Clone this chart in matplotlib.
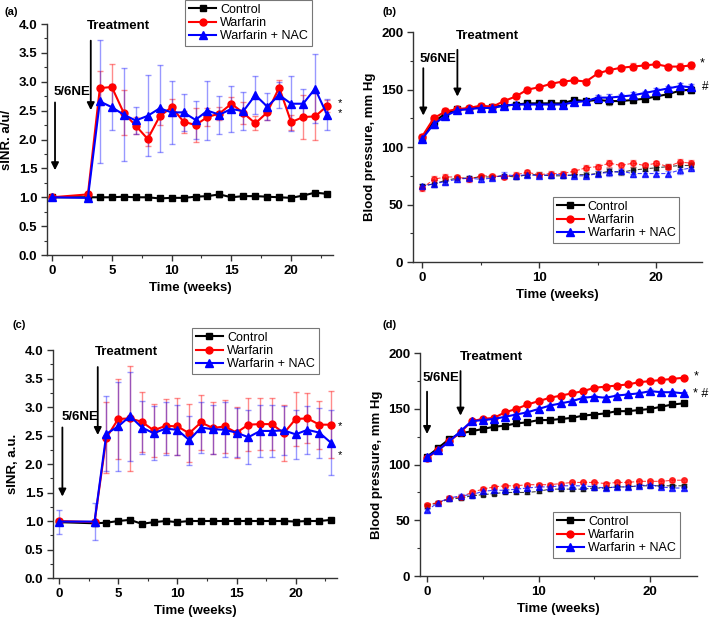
import matplotlib.pyplot as plt
from matplotlib.ticker import MultipleLocator

plt.rcParams['font.family'] = ['Liberation Sans', 'DejaVu Sans']

# --- data ---
weeks_inr = [0, 3] + list(range(4, 24))
weeks_bp = list(range(0, 24))

# (a) sINR
a_control = [1.00, 1.00, 1.00, 1.00, 1.01, 1.00, 1.00, 0.98, 0.99, 0.99, 1.01, 1.02,
             1.05, 1.00, 1.02, 1.02, 1.01, 1.00, 0.99, 1.03, 1.08, 1.06]
a_control_err = [0.02, 0.02, 0.02, 0.02, 0.02, 0.02, 0.02, 0.03, 0.02, 0.02, 0.02, 0.02,
                 0.04, 0.02, 0.02, 0.02, 0.02, 0.02, 0.03, 0.02, 0.02, 0.02]
a_warf = [1.00, 1.05, 2.89, 2.91, 2.46, 2.24, 2.01, 2.40, 2.56, 2.31, 2.25, 2.39,
          2.45, 2.62, 2.46, 2.28, 2.47, 2.90, 2.30, 2.39, 2.40, 2.58]
a_warf_err = [0.02, 0.03, 0.30, 0.40, 0.39, 0.15, 0.12, 0.15, 0.15, 0.19, 0.30, 0.16,
              0.12, 0.11, 0.19, 0.12, 0.13, 0.13, 0.13, 0.38, 0.41, 0.11]
a_nac = [1.00, 0.99, 2.66, 2.56, 2.43, 2.33, 2.41, 2.54, 2.47, 2.47, 2.34, 2.50,
         2.43, 2.53, 2.49, 2.77, 2.57, 2.77, 2.62, 2.62, 2.88, 2.43]
a_nac_err = [0.02, 0.02, 1.06, 0.40, 0.80, 0.23, 0.70, 0.75, 0.54, 0.32, 0.33, 0.51,
             0.33, 0.40, 0.33, 0.33, 0.24, 0.23, 0.48, 0.26, 0.60, 0.27]

# (b) blood pressure, systolic (solid) and diastolic (dashed)
b_control_sys = [108, 122, 129, 133, 133, 135, 135, 136, 137, 138, 138, 138,
                 138, 141, 140, 141, 140, 140, 141, 142, 144, 146, 149, 150]
b_warf_sys = [109, 125, 131, 133, 134, 136, 135, 140, 144, 150, 152, 155,
              157, 158, 157, 164, 167, 169, 170, 171, 172, 170, 170, 171]
b_nac_sys = [107, 120, 127, 132, 133, 134, 134, 136, 137, 137, 137, 137,
             137, 139, 140, 143, 143, 144, 145, 147, 149, 151, 153, 152]
b_control_dia = [66, 68, 71, 73, 73, 74, 74, 75, 74, 76, 76, 75,
                 75, 76, 76, 77, 79, 78, 80, 81, 82, 83, 84, 84]
b_warf_dia = [64, 72, 74, 74, 72, 75, 75, 74, 76, 78, 76, 77,
              77, 79, 82, 83, 86, 84, 86, 84, 86, 83, 87, 86]
b_nac_dia = [66, 68, 70, 72, 73, 72, 73, 76, 75, 76, 75, 76,
             76, 75, 75, 77, 78, 79, 77, 77, 77, 77, 80, 82]
b_err = [2, 3, 3, 2, 2, 2, 2, 2, 2, 2, 2, 2, 2, 2, 2, 2, 3, 2, 3, 2, 2, 2, 3, 3]

# (c) sINR
c_control = [0.98, 0.96, 0.97, 1.00, 1.02, 0.95, 0.98, 1.00, 0.98, 1.00, 1.00, 1.00,
             1.00, 1.00, 1.00, 1.00, 1.00, 1.00, 0.99, 1.00, 1.00, 1.02]
c_control_err = [0.02, 0.03, 0.02, 0.02, 0.02, 0.03, 0.02, 0.02, 0.02, 0.02, 0.02, 0.02,
                 0.02, 0.02, 0.02, 0.02, 0.02, 0.02, 0.02, 0.02, 0.02, 0.02]
c_warf = [1.00, 0.98, 2.46, 2.79, 2.80, 2.74, 2.59, 2.67, 2.66, 2.54, 2.73, 2.63,
          2.66, 2.55, 2.69, 2.70, 2.70, 2.54, 2.79, 2.80, 2.69, 2.69]
c_warf_err = [0.03, 0.03, 0.62, 0.70, 0.92, 0.53, 0.47, 0.47, 0.50, 0.51, 0.48, 0.46,
              0.46, 0.45, 0.46, 0.45, 0.46, 0.49, 0.48, 0.44, 0.42, 0.59]
c_nac = [0.99, 0.99, 2.53, 2.66, 2.84, 2.64, 2.54, 2.62, 2.60, 2.42, 2.64, 2.61,
         2.60, 2.55, 2.47, 2.58, 2.58, 2.59, 2.52, 2.60, 2.55, 2.37]
c_nac_err = [0.21, 0.32, 0.66, 0.78, 0.78, 0.47, 0.47, 0.47, 0.44, 0.43, 0.44, 0.43,
             0.48, 0.43, 0.47, 0.45, 0.45, 0.43, 0.43, 0.42, 0.44, 0.57]

# (d) blood pressure
d_control_sys = [107, 115, 123, 128, 130, 132, 134, 135, 137, 138, 140, 140,
                 141, 142, 144, 145, 146, 148, 148, 149, 150, 152, 154, 155]
d_warf_sys = [106, 113, 121, 129, 139, 141, 142, 147, 150, 154, 157, 160,
              162, 164, 166, 169, 170, 171, 172, 174, 175, 176, 177, 178]
d_nac_sys = [107, 113, 121, 130, 139, 140, 141, 143, 145, 147, 150, 153,
             155, 157, 160, 161, 160, 162, 163, 164, 166, 165, 165, 164]
d_control_dia = [63, 66, 69, 70, 72, 73, 74, 75, 75, 75, 76, 78,
                 78, 78, 78, 79, 79, 80, 80, 81, 81, 81, 81, 81]
d_warf_dia = [64, 66, 70, 71, 75, 78, 80, 81, 81, 82, 82, 82,
              83, 84, 84, 84, 83, 84, 84, 85, 85, 85, 86, 86]
d_nac_dia = [59, 66, 70, 72, 73, 76, 77, 77, 78, 79, 80, 80,
             81, 81, 81, 80, 79, 80, 80, 81, 82, 80, 79, 79]
d_err = [1.5] * 24

RED = '#ff0000'
BLUE = '#0000ff'


def style_axis(ax, xlim, ylim, ymaj, ymin, xmaj, xmin, ylabel):
    ax.set_xlim(*xlim)
    ax.set_ylim(*ylim)
    ax.spines['top'].set_visible(False)
    ax.spines['right'].set_visible(False)
    for s in ['left', 'bottom']:
        ax.spines[s].set_color('#333333')
        ax.spines[s].set_linewidth(1.0)
    ax.yaxis.set_major_locator(MultipleLocator(ymaj))
    ax.yaxis.set_minor_locator(MultipleLocator(ymin))
    ax.xaxis.set_major_locator(MultipleLocator(xmaj))
    ax.xaxis.set_minor_locator(MultipleLocator(xmin))
    ax.tick_params(which='major', length=4, width=1, color='#333333', labelsize=9.5, pad=3)
    ax.tick_params(which='minor', length=2, width=0.8, color='#333333')
    for lab in ax.get_xticklabels() + ax.get_yticklabels():
        lab.set_fontweight('bold')
    ax.set_xlabel('Time (weeks)', fontsize=9.5, fontweight='bold')
    ax.set_ylabel(ylabel, fontsize=9.5, fontweight='bold')


def inr_panel(ax, ctrl, ctrl_err, warf, warf_err, nac, nac_err):
    ax.errorbar(weeks_inr, warf, yerr=warf_err, fmt='none', ecolor=RED, alpha=0.45,
                elinewidth=1, capsize=2.5)
    ax.errorbar(weeks_inr, nac, yerr=nac_err, fmt='none', ecolor=BLUE, alpha=0.4,
                elinewidth=1, capsize=2.5)
    ax.errorbar(weeks_inr, ctrl, yerr=ctrl_err, fmt='none', ecolor='k', elinewidth=1, capsize=2)
    ax.plot(weeks_inr, ctrl, color='k', marker='s', ms=4, lw=1.5, label='Control')
    ax.plot(weeks_inr, warf, color=RED, marker='o', ms=5, lw=1.5, label='Warfarin')
    ax.plot(weeks_inr, nac, color=BLUE, marker='^', ms=5.5, lw=1.5, label='Warfarin + NAC')


def bp_panel(ax, csys, wsys, nsys, cdia, wdia, ndia, err):
    for y, c in [(cdia, 'k'), (wdia, RED), (ndia, BLUE)]:
        ax.errorbar(weeks_bp, y, yerr=err, fmt='none', ecolor=c, alpha=0.4, elinewidth=0.8, capsize=2)
    ax.plot(weeks_bp, cdia, color='k', marker='s', ms=3.5, lw=0.8, ls='--', alpha=0.75)
    ax.plot(weeks_bp, wdia, color=RED, marker='o', ms=4, lw=0.8, ls='--', alpha=0.75)
    ax.plot(weeks_bp, ndia, color=BLUE, marker='^', ms=4, lw=0.8, ls='--', alpha=0.75)
    for y, c in [(csys, 'k'), (wsys, RED), (nsys, BLUE)]:
        ax.errorbar(weeks_bp, y, yerr=err, fmt='none', ecolor=c, alpha=0.5, elinewidth=0.8, capsize=2)
    ax.plot(weeks_bp, csys, color='k', marker='s', ms=4, lw=1.5, label='Control')
    ax.plot(weeks_bp, wsys, color=RED, marker='o', ms=5, lw=1.5, label='Warfarin')
    ax.plot(weeks_bp, nsys, color=BLUE, marker='^', ms=5.5, lw=1.5, label='Warfarin + NAC')


def add_legend(ax, x, y):
    leg = ax.legend(loc='upper left', bbox_to_anchor=(x, y), borderaxespad=0,
                    fancybox=False, frameon=True, fontsize=9, handlelength=2.2,
                    handletextpad=0.3, labelspacing=0.1, borderpad=0.3)
    leg.get_frame().set_edgecolor('#555555')
    leg.get_frame().set_linewidth(0.8)


def arrow(ax, text, tx, ty, ax_x, y0, y1):
    ax.text(tx, ty, text, fontsize=9.5, fontweight='bold', ha='left', va='center', clip_on=False)
    ax.annotate('', xy=(ax_x, y1), xytext=(ax_x, y0), annotation_clip=False,
                arrowprops=dict(arrowstyle='-|>', color='k', lw=1.3, mutation_scale=11))


fig = plt.figure(figsize=(7.09, 6.24), dpi=100)

ax_a = fig.add_axes([0.0663, 0.5913, 0.4034, 0.3702])
inr_panel(ax_a, a_control, a_control_err, a_warf, a_warf_err, a_nac, a_nac_err)
style_axis(ax_a, (-0.42, 23.5), (0, 4.0), 0.5, 0.25, 5, 2.5, 'sINR. a/u/')
add_legend(ax_a, 0.483, 1.104)
arrow(ax_a, '5/6NE', 0.12, 2.83, 0.25, 2.69, 1.42)
arrow(ax_a, 'Treatment', 2.95, 3.97, 3.24, 3.76, 2.46)
ax_a.text(23.9, 2.63, '*', fontsize=8, ha='left', va='center', clip_on=False)
ax_a.text(23.9, 2.46, '*', fontsize=8, ha='left', va='center', clip_on=False)

ax_b = fig.add_axes([0.5825, 0.580, 0.4076, 0.3686])
bp_panel(ax_b, b_control_sys, b_warf_sys, b_nac_sys, b_control_dia, b_warf_dia, b_nac_dia, b_err)
style_axis(ax_b, (-0.77, 23.9), (0, 200), 50, 25, 10, 5, 'Blood pressure, mm Hg')
add_legend(ax_b, 0.484, 0.283)
arrow(ax_b, '5/6NE', -0.17, 177, 0.11, 171, 125)
arrow(ax_b, 'Treatment', 2.9, 197, 3.02, 187, 141.5)
ax_b.text(23.95, 173, '*', fontsize=9, ha='center', va='center', clip_on=False)
ax_b.text(24.15, 152, '#', fontsize=8.5, ha='center', va='center', clip_on=False)

ax_c = fig.add_axes([0.0748, 0.0737, 0.4006, 0.3654])
inr_panel(ax_c, c_control, c_control_err, c_warf, c_warf_err, c_nac, c_nac_err)
style_axis(ax_c, (-0.51, 23.5), (0, 4.0), 0.5, 0.25, 5, 2.5, 'sINR, a.u.')
add_legend(ax_c, 0.489, 1.096)
arrow(ax_c, '5/6NE', 0.18, 2.82, 0.28, 2.69, 1.38)
arrow(ax_c, 'Treatment', 3.05, 3.97, 3.27, 3.75, 2.46)
ax_c.text(23.6, 2.66, '*', fontsize=8, ha='left', va='center', clip_on=False)
ax_c.text(23.6, 2.16, '*', fontsize=8, ha='left', va='center', clip_on=False)

ax_d = fig.add_axes([0.5924, 0.0769, 0.3907, 0.357])
bp_panel(ax_d, d_control_sys, d_warf_sys, d_nac_sys, d_control_dia, d_warf_dia, d_nac_dia, d_err)
style_axis(ax_d, (-0.63, 24.2), (0, 200), 50, 25, 10, 5, 'Blood pressure, mm Hg')
add_legend(ax_d, 0.48, 0.287)
arrow(ax_d, '5/6NE', -0.38, 177.5, 0.0, 168, 125)
arrow(ax_d, 'Treatment', 2.9, 197, 3.0, 186.5, 141.5)
ax_d.text(23.95, 179, '*', fontsize=9, ha='left', va='center', clip_on=False)
ax_d.text(23.85, 163, '* #', fontsize=9, ha='left', va='center', clip_on=False)

fig.text(0.006, 1 - 12 / 624, '(a)', fontsize=8, fontweight='bold', va='center')
fig.text(0.539, 1 - 12 / 624, '(b)', fontsize=8, fontweight='bold', va='center')
fig.text(0.018, 1 - 325 / 624, '(c)', fontsize=8, fontweight='bold', va='center')
fig.text(0.539, 1 - 325 / 624, '(d)', fontsize=8, fontweight='bold', va='center')

fig.savefig('out.png', dpi=100)
